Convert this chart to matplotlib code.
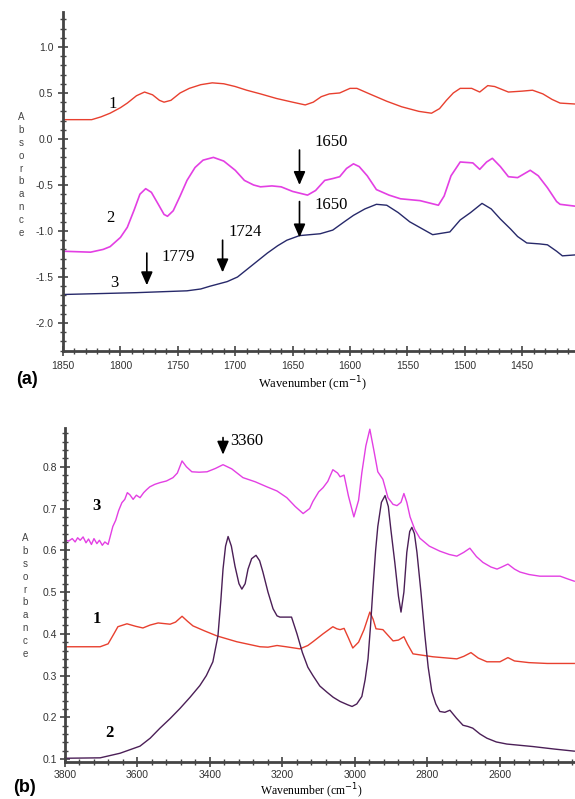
import matplotlib
matplotlib.use('Agg')
import matplotlib.pyplot as plt
from matplotlib.ticker import MultipleLocator

# ---------- data: panel (a), 1850-1400 cm-1 ----------
wn_a1 = [1850, 1825, 1817, 1809, 1800, 1794, 1786, 1779, 1772, 1766, 1762, 1756, 1748,
         1740, 1730, 1720, 1710, 1700, 1690, 1678, 1664, 1650, 1639, 1632, 1625, 1618,
         1609, 1600, 1594, 1583, 1568, 1555, 1540, 1529, 1522, 1516, 1510, 1504, 1494,
         1487, 1480, 1474, 1462, 1450, 1441, 1432, 1424, 1417, 1404]
ab_a1 = [0.21, 0.21, 0.24, 0.28, 0.34, 0.39, 0.47, 0.51, 0.48, 0.42, 0.40, 0.42, 0.50,
         0.55, 0.59, 0.61, 0.60, 0.57, 0.53, 0.49, 0.44, 0.40, 0.37, 0.40, 0.46, 0.49,
         0.50, 0.55, 0.55, 0.49, 0.41, 0.35, 0.30, 0.28, 0.33, 0.42, 0.50, 0.55, 0.55,
         0.51, 0.58, 0.57, 0.51, 0.52, 0.53, 0.49, 0.43, 0.39, 0.38]

wn_a2 = [1850, 1826, 1815, 1809, 1800, 1794, 1788, 1783, 1778, 1773, 1767, 1762, 1759,
         1754, 1748, 1742, 1735, 1728, 1719, 1710, 1700, 1692, 1684, 1678, 1668, 1660,
         1650, 1637, 1630, 1622, 1615, 1609, 1603, 1597, 1592, 1585, 1577, 1566, 1556,
         1539, 1523, 1518, 1512, 1504, 1493, 1487, 1481, 1476, 1469, 1462, 1454, 1443,
         1436, 1428, 1420, 1417, 1404]
ab_a2 = [-1.22, -1.23, -1.20, -1.17, -1.07, -0.96, -0.77, -0.60, -0.54, -0.58, -0.71,
         -0.82, -0.84, -0.78, -0.62, -0.45, -0.31, -0.23, -0.20, -0.24, -0.34, -0.45,
         -0.50, -0.52, -0.51, -0.52, -0.57, -0.61, -0.56, -0.45, -0.43, -0.41, -0.32,
         -0.27, -0.30, -0.40, -0.55, -0.61, -0.65, -0.67, -0.72, -0.62, -0.40, -0.25,
         -0.26, -0.33, -0.25, -0.21, -0.30, -0.41, -0.42, -0.34, -0.40, -0.53, -0.68,
         -0.71, -0.73]

wn_a3 = [1850, 1786, 1742, 1730, 1722, 1707, 1698, 1690, 1681, 1672, 1663, 1655, 1644,
         1626, 1615, 1605, 1597, 1587, 1577, 1568, 1558, 1548, 1538, 1528, 1513, 1504,
         1495, 1485, 1477, 1469, 1460, 1454, 1446, 1435, 1428, 1420, 1415, 1404]
ab_a3 = [-1.69, -1.67, -1.65, -1.63, -1.60, -1.55, -1.50, -1.42, -1.33, -1.24, -1.16,
         -1.10, -1.05, -1.03, -0.99, -0.90, -0.83, -0.76, -0.71, -0.72, -0.80, -0.90,
         -0.97, -1.04, -1.01, -0.88, -0.80, -0.70, -0.76, -0.87, -0.98, -1.06, -1.13,
         -1.14, -1.15, -1.22, -1.27, -1.26]

# ---------- data: panel (b), 3800-2400 cm-1 ----------
wn_b1 = [3800, 3703, 3681, 3665, 3654, 3629, 3605, 3585, 3565, 3543, 3510, 3495, 3477,
         3462, 3447, 3415, 3381, 3326, 3262, 3240, 3215, 3190, 3152, 3130, 3116, 3088,
         3061, 3050, 3041, 3030, 3018, 3006, 2990, 2975, 2959, 2950, 2942, 2923, 2895,
         2880, 2865, 2855, 2840, 2785, 2719, 2700, 2680, 2660, 2636, 2600, 2578, 2560,
         2520, 2470, 2395]
ab_b1 = [0.369, 0.369, 0.376, 0.400, 0.417, 0.424, 0.418, 0.414, 0.421, 0.426, 0.423,
         0.428, 0.442, 0.430, 0.419, 0.407, 0.395, 0.381, 0.369, 0.368, 0.372, 0.369,
         0.364, 0.372, 0.381, 0.400, 0.417, 0.412, 0.410, 0.413, 0.390, 0.366, 0.380,
         0.410, 0.452, 0.435, 0.412, 0.410, 0.383, 0.385, 0.393, 0.375, 0.352, 0.345,
         0.340, 0.346, 0.355, 0.342, 0.333, 0.333, 0.343, 0.335, 0.331, 0.329, 0.329]

wn_b2 = [3800, 3703, 3648, 3593, 3565, 3538, 3510, 3483, 3455, 3428, 3410, 3392, 3378,
         3370, 3364, 3357, 3350, 3341, 3331, 3320, 3312, 3303, 3295, 3285, 3273, 3263,
         3254, 3240, 3226, 3215, 3207, 3175, 3160, 3145, 3130, 3116, 3097, 3077, 3060,
         3041, 3020, 3008, 2995, 2981, 2972, 2964, 2957, 2950, 2943, 2937, 2927, 2917,
         2908, 2901, 2890, 2880, 2873, 2865, 2857, 2849, 2843, 2836, 2829, 2818, 2807,
         2798, 2788, 2777, 2766, 2752, 2738, 2720, 2702, 2688, 2675, 2655, 2636, 2610,
         2581, 2509, 2450, 2395]
ab_b2 = [0.102, 0.103, 0.114, 0.131, 0.150, 0.174, 0.197, 0.221, 0.248, 0.276, 0.300,
         0.333, 0.395, 0.480, 0.555, 0.610, 0.633, 0.610, 0.562, 0.520, 0.507, 0.520,
         0.555, 0.580, 0.588, 0.575, 0.548, 0.500, 0.460, 0.443, 0.440, 0.440, 0.400,
         0.355, 0.320, 0.300, 0.275, 0.260, 0.248, 0.238, 0.230, 0.226, 0.232, 0.250,
         0.290, 0.340, 0.420, 0.514, 0.600, 0.657, 0.715, 0.731, 0.705, 0.650, 0.570,
         0.490, 0.452, 0.500, 0.595, 0.645, 0.655, 0.640, 0.595, 0.500, 0.395, 0.320,
         0.262, 0.232, 0.214, 0.212, 0.217, 0.198, 0.181, 0.178, 0.174, 0.160, 0.150,
         0.141, 0.136, 0.130, 0.124, 0.119]

wn_b3 = [3800, 3790, 3780, 3772, 3765, 3758, 3750, 3742, 3735, 3727, 3720, 3712, 3705,
         3697, 3690, 3681, 3668, 3660, 3652, 3643, 3635, 3628, 3621, 3612, 3603, 3593,
         3583, 3575, 3566, 3552, 3538, 3520, 3502, 3490, 3477, 3465, 3450, 3430, 3408,
         3385, 3364, 3340, 3309, 3275, 3243, 3215, 3188, 3165, 3143, 3125, 3116, 3100,
         3088, 3075, 3061, 3048, 3041, 3030, 3018, 3003, 2990, 2981, 2970, 2959, 2948,
         2937, 2923, 2909, 2895, 2884, 2873, 2865, 2857, 2848, 2835, 2821, 2795, 2766,
         2740, 2719, 2700, 2683, 2665, 2647, 2625, 2608, 2595, 2578, 2560, 2545, 2520,
         2490, 2434, 2415, 2395]
ab_b3 = [0.625, 0.622, 0.628, 0.620, 0.630, 0.624, 0.632, 0.618, 0.627, 0.614, 0.628,
         0.616, 0.624, 0.612, 0.620, 0.614, 0.657, 0.672, 0.695, 0.714, 0.722, 0.738,
         0.733, 0.722, 0.732, 0.726, 0.738, 0.745, 0.752, 0.758, 0.762, 0.766, 0.774,
         0.785, 0.814, 0.800, 0.788, 0.787, 0.788, 0.796, 0.805, 0.795, 0.774, 0.764,
         0.752, 0.742, 0.726, 0.705, 0.688, 0.700, 0.717, 0.740, 0.750, 0.765, 0.793,
         0.785, 0.776, 0.780, 0.730, 0.680, 0.720, 0.786, 0.850, 0.890, 0.840, 0.788,
         0.770, 0.726, 0.710, 0.707, 0.715, 0.736, 0.715, 0.680, 0.650, 0.629, 0.610,
         0.598, 0.590, 0.586, 0.595, 0.605, 0.585, 0.571, 0.560, 0.555, 0.560, 0.567,
         0.555, 0.548, 0.542, 0.538, 0.538, 0.532, 0.526]

xticks_a = [1850, 1800, 1750, 1700, 1650, 1600, 1550, 1500, 1450]
yticks_a = [-2.0, -1.5, -1.0, -0.5, 0.0, 0.5, 1.0]
xticks_b = [3800, 3600, 3400, 3200, 3000, 2800, 2600]
yticks_b = [0.1, 0.2, 0.3, 0.4, 0.5, 0.6, 0.7, 0.8]

RED = '#e8402f'
MAG = '#e33fe3'
NAVY = '#27296a'
PURP = '#4b1f57'
SERIF = 'Liberation Serif'
SANS = 'Liberation Sans'

fig = plt.figure(figsize=(5.75, 7.99), dpi=100)


def style_axes(ax, xt, yt, minor_x, minor_y, pad):
    for s in ['top', 'right']:
        ax.spines[s].set_visible(False)
    for s in ['left', 'bottom']:
        ax.spines[s].set_linewidth(2.0)
        ax.spines[s].set_color('#444444')
    ax.set_xticks(xt)
    ax.set_xticklabels([str(v) for v in xt], family=SANS)
    ax.set_yticks(yt)
    ax.set_yticklabels(['%.1f' % v for v in yt], family=SANS)
    ax.xaxis.set_minor_locator(MultipleLocator(minor_x))
    ax.yaxis.set_minor_locator(MultipleLocator(minor_y))
    ax.tick_params(which='major', direction='inout', length=7, width=1.2,
                   color='#444444', labelsize=7.5, labelcolor='#333333', pad=pad)
    ax.tick_params(which='minor', direction='inout', length=4, width=1.0,
                   color='#444444')


arrow = dict(arrowstyle='-|>,head_length=0.8,head_width=0.35', color='black', lw=1.2,
             shrinkA=0, shrinkB=0)

# ---------- panel (a) ----------
ax1 = fig.add_axes([0.1096, 0.5607, 0.8904, 0.4243])
ax1.plot(wn_a1, ab_a1, color=RED, lw=1.0)
ax1.plot(wn_a2, ab_a2, color=MAG, lw=1.2)
ax1.plot(wn_a3, ab_a3, color=NAVY, lw=1.0)
ax1.set_xlim(1850, 1404)
ax1.set_ylim(-2.304, 1.38)
style_axes(ax1, xticks_a, yticks_a, 10, 0.1, 3.5)

ax1.text(1807, 0.38, '1', family=SERIF, fontsize=12, ha='center', va='center')
ax1.text(1809, -0.86, '2', family=SERIF, fontsize=12, ha='center', va='center')
ax1.text(1805, -1.57, '3', family=SERIF, fontsize=12, ha='center', va='center')

ax1.annotate('', xy=(1777, -1.59), xytext=(1777, -1.24), arrowprops=arrow)
ax1.text(1764, -1.28, '1779', family=SERIF, fontsize=12, ha='left', va='center')
ax1.annotate('', xy=(1711, -1.45), xytext=(1711, -1.10), arrowprops=arrow)
ax1.text(1706, -1.01, '1724', family=SERIF, fontsize=12, ha='left', va='center')
ax1.annotate('', xy=(1644, -0.50), xytext=(1644, -0.12), arrowprops=arrow)
ax1.text(1631, -0.03, '1650', family=SERIF, fontsize=12, ha='left', va='center')
ax1.annotate('', xy=(1644, -1.07), xytext=(1644, -0.68), arrowprops=arrow)
ax1.text(1631, -0.72, '1650', family=SERIF, fontsize=12, ha='left', va='center')

fig.text(312 / 575, 1 - 384 / 799, 'Wavenumber (cm$^{-1}$)', family=SERIF, fontsize=9,
         ha='center', va='center')
fig.text(21 / 575, 1 - 175 / 799, '\n'.join('Absorbance'), family=SANS, fontsize=7,
         color='#444444', ha='center', va='center', linespacing=1.35)
fig.text(27 / 575, 1 - 379 / 799, '(a)', family=SANS, fontsize=13, weight='bold',
         ha='center', va='center')

# ---------- panel (b) ----------
ax2 = fig.add_axes([0.113, 0.0463, 0.887, 0.4181])
ax2.plot(wn_b1, ab_b1, color=RED, lw=1.0)
ax2.plot(wn_b2, ab_b2, color=PURP, lw=1.0)
ax2.plot(wn_b3, ab_b3, color=MAG, lw=1.0)
ax2.set_xlim(3800, 2393)
ax2.set_ylim(0.093, 0.893)
style_axes(ax2, xticks_b, yticks_b, 40, 0.02, 2.0)

ax2.text(3712, 0.707, '3', family=SERIF, fontsize=12, weight='bold', ha='center', va='center')
ax2.text(3712, 0.436, '1', family=SERIF, fontsize=12, weight='bold', ha='center', va='center')
ax2.text(3676, 0.162, '2', family=SERIF, fontsize=12, weight='bold', ha='center', va='center')

ax2.annotate('', xy=(3364, 0.829), xytext=(3364, 0.870), arrowprops=arrow)
ax2.text(3345, 0.862, '3360', family=SERIF, fontsize=12, ha='left', va='center')

fig.text(311 / 575, 1 - 791 / 799, 'Wavenumber (cm$^{-1}$)', family=SERIF, fontsize=8.5,
         ha='center', va='center')
fig.text(25 / 575, 1 - 596 / 799, '\n'.join('Absorbance'), family=SANS, fontsize=7,
         color='#444444', ha='center', va='center', linespacing=1.35)
fig.text(25 / 575, 1 - 787 / 799, '(b)', family=SANS, fontsize=13, weight='bold',
         ha='center', va='center')

fig.savefig('out.png', dpi=100)
